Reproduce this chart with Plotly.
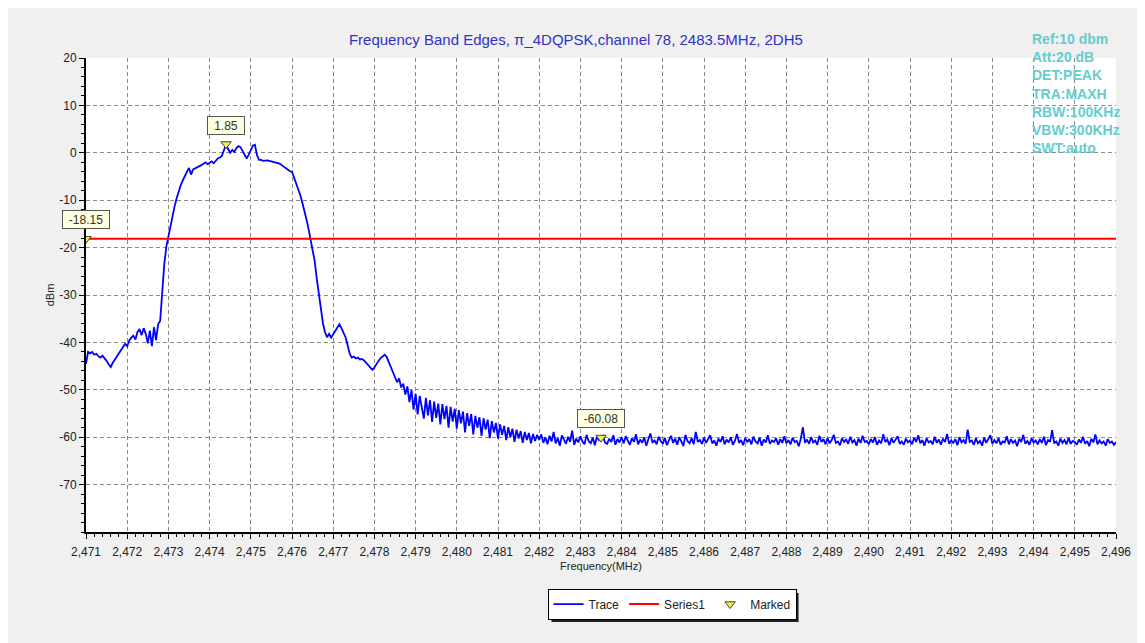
import numpy as np
import plotly.graph_objects as go

# ---------------- data ----------------
FREQ_STEP_GHZ = 0.00005  # 0.05 MHz sweep spacing

# signal region 2.47100 .. 2.47895 GHz
seg1_start = 2.47100
seg1_levels = [
    -44.5, -42.0, -42.3, -42.0, -42.6, -42.4, -42.9, -43.2, -42.8, -43.5, -43.9, -44.6, -45.2, -44.3, -43.6, -42.9, -42.4, -41.5, -41.0, -40.3,
    -40.8, -39.6, -39.0, -38.6, -39.4, -37.8, -37.2, -38.5, -37.0, -38.2, -40.2, -37.5, -40.8, -36.8, -39.5, -36.2, -35.5, -29.5, -23.5, -19.8,
    -17.5, -15.2, -13.2, -11.3, -9.6, -8.0, -6.8, -5.8, -4.8, -4.0, -3.2, -4.6, -3.5, -3.3, -3.0, -2.8, -2.6, -2.3, -2.0, -2.4,
    -2.1, -1.8, -2.2, -1.6, -1.2, -1.0, -0.6, 0.6, 1.85, 0.8, 0.0, 0.6, 0.2, 1.0, 1.4, 1.2, 0.4, -0.5, -1.2, -0.4,
    0.6, 1.5, 1.7, -0.5, -1.5, -1.5, -1.7, -1.6, -1.6, -1.7, -1.8, -1.9, -2.0, -2.1, -2.3, -2.6, -2.9, -3.3, -3.6, -3.9,
    -4.0, -5.2, -6.5, -7.6, -8.9, -10.5, -12.1, -14.0, -16.0, -18.4, -20.5, -22.8, -26.5, -30.0, -33.0, -35.9, -37.8, -38.9, -38.2, -39.0,
    -38.3, -37.6, -36.8, -36.2, -37.0, -38.1, -38.9, -40.6, -42.4, -43.2, -43.0, -43.4, -43.2, -43.6, -43.5, -43.8, -44.3, -44.9, -45.4, -45.8,
    -45.3, -44.5, -43.9, -43.3, -42.9, -42.6, -43.1, -44.2, -45.3, -46.4, -47.2, -48.4, -47.6, -49.5, -48.7, -51.0, -49.3, -52.6, -50.0, -54.2,
]

# transition region 2.47900 .. 2.48195 GHz
seg2_start = 2.47900
seg2_levels = [
    -50.8, -55.2, -51.3, -54.0, -56.1, -51.7, -55.4, -52.2, -56.8, -52.5, -55.9, -52.9, -57.3, -53.0, -56.2, -53.4, -58.0, -53.6, -56.7, -54.0,
    -58.2, -54.3, -57.1, -54.6, -59.0, -54.9, -57.6, -55.1, -59.4, -55.5, -58.0, -55.8, -59.7, -56.0, -58.4, -56.3, -60.2, -56.6, -59.0, -57.0,
    -60.3, -57.3, -59.5, -57.6, -60.6, -57.9, -60.0, -58.2, -61.0, -58.4, -60.3, -58.7, -61.2, -58.9, -60.6, -59.1, -61.3, -59.3, -60.8, -59.5,
]

# noise floor 2.48200 .. 2.49600 GHz
seg3_start = 2.48200
seg3_levels = [
    -60.6, -59.4, -61.2, -60.0, -61.5, -59.7, -60.9, -58.9, -61.3, -60.2, -61.8, -59.6, -60.7, -61.4, -59.9, -61.0, -58.6, -61.6, -60.3, -61.1,
    -59.8, -60.9, -61.5, -59.5, -60.8, -61.3, -60.1, -61.7, -59.9, -60.6, -60.08, -59.7, -61.2, -61.4, -60.3, -61.0, -59.6, -61.6, -60.4, -61.1,
    -60.0,
    -61.3, -59.8, -60.9, -61.6, -60.2, -61.0, -59.4, -61.5, -60.5, -61.2, -60.0, -61.8, -60.4, -59.2, -61.1, -60.7, -61.5, -59.9, -60.8, -61.4,
    -60.1, -61.7, -60.6, -59.7, -61.2, -60.3, -61.6, -60.0, -60.9, -61.9, -59.5, -60.8, -61.3, -60.2, -61.5, -58.9, -61.0, -60.6, -61.4, -60.1,
    -61.2, -60.4, -59.6, -61.3, -60.7, -61.8, -60.3, -61.0, -59.8, -61.5, -60.5, -61.1, -60.0, -61.6, -60.8, -59.3, -61.2, -60.6, -61.7, -60.2,
    -61.0, -60.4, -61.5, -59.9, -60.9, -61.3, -60.1, -61.8, -60.5, -61.1, -59.6, -61.4, -60.7, -61.0, -60.2, -61.6, -60.4, -61.2, -59.8, -61.3,
    -60.6, -61.5, -60.1, -61.0, -60.8, -61.9, -60.3, -57.9, -61.2, -60.5, -61.4, -60.0, -61.1, -60.7, -61.6, -59.7, -61.0, -60.4, -61.5, -60.2,
    -61.3, -60.6, -59.5, -61.2, -60.9, -61.7, -60.2, -61.0, -60.5, -61.4, -59.9, -61.1, -60.6, -61.8, -60.3, -61.2, -59.7, -61.0, -60.8, -61.5,
    -60.4, -61.1, -60.0, -61.6, -60.7, -61.3, -59.4, -61.0, -60.5, -61.7, -60.2, -61.2, -60.6, -59.8, -61.4, -60.9, -61.6, -60.3, -61.1, -60.7,
    -61.5, -60.1, -61.0, -59.6, -61.3, -60.6, -61.8, -60.2, -61.1, -60.8, -61.5, -59.9, -61.2, -60.5, -61.6, -60.3, -61.0, -59.3, -61.4, -60.7,
    -61.2, -60.4, -61.7, -60.0, -61.1, -60.6, -61.4, -58.4, -61.0, -60.7, -61.6, -60.2, -61.3, -60.8, -61.8, -60.1, -61.2, -60.5, -59.6, -61.4,
    -60.6, -61.3, -60.2, -61.6, -60.9, -61.1, -59.8, -61.5, -60.4, -61.2, -60.7, -61.9, -60.3, -61.0, -59.5, -61.4, -60.8, -61.6, -60.2, -61.1,
    -60.7, -61.5, -60.4, -61.2, -59.9, -61.7, -60.6, -61.0, -58.5, -61.3, -60.9, -61.8, -60.3, -61.2, -60.6, -61.5, -60.1, -61.4, -60.8, -61.0,
    -61.6, -60.5, -61.2, -59.9, -61.4, -60.8, -61.9, -60.3, -61.1, -59.4, -61.5, -60.7, -61.3, -60.9, -61.8, -60.4, -61.2, -60.9, -61.6, -61.0,
]

limit_freqs = [2.471, 2.496]
limit_levels = [-18.15, -18.15]

marker_freqs = [2.4744, 2.4710, 2.4835]
marker_levels = [1.85, -18.15, -60.08]
marker_labels = ["1.85", "-18.15", "-60.08"]

y_tick_vals = [20, 10, 0, -10, -20, -30, -40, -50, -60, -70]
y_tick_text = ["20", "10", "0", "-10", "-20", "-30", "-40", "-50", "-60", "-70"]

x_tick_vals = [2.471 + 0.001 * k for k in range(26)]

info_lines = ["Ref:10 dbm", "Att:20 dB", "DET:PEAK", "TRA:MAXH", "RBW:100KHz", "VBW:300KHz", "SWT:auto"]

title_text = "Frequency Band Edges, π_4DQPSK,channel 78, 2483.5MHz, 2DH5"

# ---------------- build ----------------
def seg_freqs(start, levels):
    return [start + FREQ_STEP_GHZ * i for i in range(len(levels))]

trace_x = seg_freqs(seg1_start, seg1_levels) + seg_freqs(seg2_start, seg2_levels) + seg_freqs(seg3_start, seg3_levels)
trace_y = seg1_levels + seg2_levels + seg3_levels

FONT = "Arial, 'Liberation Sans', sans-serif"

fig = go.Figure()
fig.add_trace(go.Scatter(x=trace_x, y=trace_y, mode="lines", name="Trace",
                         line=dict(color="#0000ff", width=1.8)))
fig.add_trace(go.Scatter(x=limit_freqs, y=limit_levels, mode="lines", name="Series1",
                         line=dict(color="#ff0000", width=2)))
fig.add_trace(go.Scatter(x=marker_freqs, y=marker_levels, mode="markers", name="Marked",
                         marker=dict(symbol="triangle-down", size=9, color="#f0f050",
                                     line=dict(color="#404040", width=1))))

label_box_width = {"1.85": 32, "-18.15": 42, "-60.08": 42}
for fx, fy, lab in zip(marker_freqs, marker_levels, marker_labels):
    fig.add_annotation(x=fx, y=fy, text=lab, showarrow=False, yshift=19,
                       width=label_box_width[lab], height=13, align="center",
                       font=dict(family=FONT, size=12, color="#333333"),
                       bgcolor="#ffffe1", bordercolor="#555555", borderwidth=1, borderpad=2)

fig.add_annotation(xref="paper", yref="paper", x=0.9165, y=1.062, xanchor="left", yanchor="top",
                   align="left", showarrow=False,
                   text="<br>".join("<b>%s</b>" % s for s in info_lines),
                   font=dict(family=FONT, size=14, color="#66cccc"))

# legend drop shadow
fig.add_shape(type="rect", xref="paper", yref="paper",
              x0=0.4519, x1=0.6918, y0=-0.1899, y1=-0.1287,
              fillcolor="#202020", line=dict(width=0), layer="above")

fig.update_layout(
    width=1145, height=643,
    margin=dict(l=78, r=37, t=50, b=119),
    paper_bgcolor="#f0f0f0", plot_bgcolor="#ffffff",
    separators=",.",
    title=dict(text=title_text, x=0.496, xanchor="center", y=0.951, yanchor="middle",
               font=dict(family=FONT, size=15, color="#3030c8")),
    font=dict(family=FONT, size=12, color="#222222"),
    showlegend=True,
    legend=dict(orientation="h", x=0.569, xanchor="center", y=-0.152, yanchor="middle",
                bgcolor="#ffffff", bordercolor="#000000", borderwidth=1,
                font=dict(family=FONT, size=12, color="#222222"), itemwidth=30),
)

fig.update_xaxes(range=[2.471, 2.496], tickvals=x_tick_vals, tickformat=".3f",
                 showline=True, linecolor="#000000", linewidth=2,
                 ticks="outside", ticklen=5, tickcolor="#000000", ticklabelstandoff=3,
                 minor=dict(ticks="outside", ticklen=3, tickcolor="#000000", dtick=0.0002, showgrid=False),
                 showgrid=True, gridcolor="#8a8a8a", gridwidth=1, griddash="4px,3px",
                 zeroline=False,
                 tickfont=dict(family=FONT, size=12, color="#222222"),
                 title=dict(text="Frequency(MHz)", standoff=4, font=dict(family=FONT, size=11, color="#222222")))
fig.update_yaxes(range=[-80, 20], tickvals=y_tick_vals, ticktext=y_tick_text,
                 showline=True, linecolor="#000000", linewidth=2,
                 ticks="outside", ticklen=5, tickcolor="#000000",
                 minor=dict(ticks="outside", ticklen=3, tickcolor="#000000", dtick=2, showgrid=False),
                 showgrid=True, gridcolor="#8a8a8a", gridwidth=1, griddash="4px,3px",
                 zeroline=False,
                 tickfont=dict(family=FONT, size=12, color="#222222"),
                 title=dict(text="dBm", standoff=2, font=dict(family=FONT, size=11, color="#222222")))

fig.write_html("out.html")
